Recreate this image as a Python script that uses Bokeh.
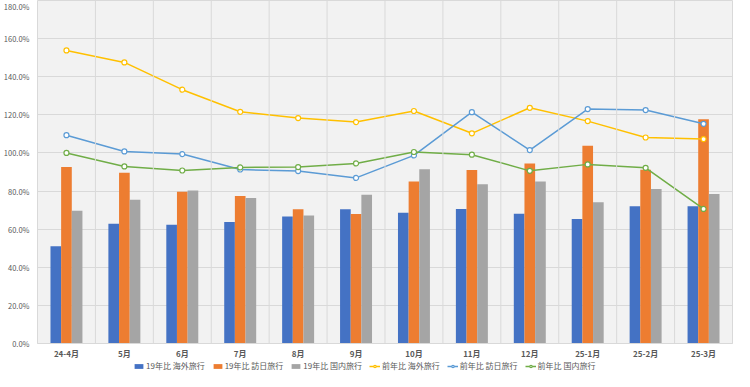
from bokeh.plotting import figure
from bokeh.layouts import column
from bokeh.models import (ColumnDataSource, FactorRange, FixedTicker, PrintfTickFormatter,
                          Legend, LegendItem, Span)
from bokeh.transform import dodge
from bokeh.embed import file_html
from bokeh.resources import INLINE

months = ["24-4月", "5月", "6月", "7月", "8月", "9月", "10月", "11月", "12月", "25-1月", "25-2月", "25-3月"]

vs19_outbound = [51.0, 62.8, 62.3, 63.7, 66.7, 70.4, 68.6, 70.6, 68.1, 65.3, 72.0, 72.0]
vs19_inbound = [92.6, 89.6, 79.7, 77.4, 70.4, 67.9, 85.0, 91.1, 94.5, 103.8, 91.2, 117.7]
vs19_domestic = [69.7, 75.5, 80.3, 76.4, 67.2, 78.0, 91.5, 83.6, 85.0, 74.1, 81.1, 78.5]

yoy_outbound = [153.8, 147.5, 133.2, 121.6, 118.3, 116.2, 122.0, 110.3, 123.7, 116.7, 108.1, 107.3]
yoy_inbound = [109.3, 100.8, 99.4, 91.3, 90.5, 86.9, 98.7, 121.4, 101.5, 123.0, 122.5, 115.3]
yoy_domestic = [100.0, 92.9, 90.8, 92.4, 92.6, 94.5, 100.5, 99.1, 90.6, 94.0, 92.2, 70.6]

y_ticks = [0, 20, 40, 60, 80, 100, 120, 140, 160, 180]

series_labels = ["19年比 海外旅行", "19年比 訪日旅行", "19年比 国内旅行",
                 "前年比 海外旅行", "前年比 訪日旅行", "前年比 国内旅行"]
bar_colors = ["#4472C4", "#ED7D31", "#A5A5A5"]
line_colors = ["#FFC000", "#5B9BD5", "#70AD47"]

src = ColumnDataSource(dict(month=months, b1=vs19_outbound, b2=vs19_inbound, b3=vs19_domestic,
                            l1=yoy_outbound, l2=yoy_inbound, l3=yoy_domestic))

JP = "Noto Sans CJK JP"
bw = 0.184


def draw_series(fig):
    bars, lines = [], []
    for key, off, col in zip(["b1", "b2", "b3"], [-bw, 0, bw], bar_colors):
        r = fig.vbar(x=dodge("month", off, range=fig.x_range), top=key, width=bw, source=src,
                     fill_color=col, line_color=None)
        bars.append(r)
    for key, col in zip(["l1", "l2", "l3"], line_colors):
        l = fig.line(x="month", y=key, source=src, line_color=col, line_width=1.5)
        s = fig.scatter(x="month", y=key, source=src, size=5, marker="circle",
                        fill_color="white", line_color=col, line_width=1.2)
        lines.append([l, s])
    return bars, lines


# ---- main chart ----
p = figure(x_range=FactorRange(factors=months), y_range=(0, 180),
           width=734, height=361, output_backend="svg", toolbar_location=None,
           min_border_left=28, min_border_right=2, min_border_top=0, min_border_bottom=12)
p.background_fill_color = "#f2f2f2"
p.border_fill_color = "white"
p.outline_line_color = "#d9d9d9"

p.xgrid.grid_line_color = None
p.ygrid.grid_line_color = "#d9d9d9"
p.ygrid.grid_line_width = 1
for i in range(1, len(months)):
    p.add_layout(Span(location=i, dimension="height", line_color="#d9d9d9", line_width=1))

draw_series(p)

p.yaxis.ticker = FixedTicker(ticks=y_ticks)
p.yaxis.formatter = PrintfTickFormatter(format="%.1f%%")
p.yaxis.axis_line_color = None
p.yaxis.major_tick_line_color = None
p.yaxis.major_tick_out = 0
p.yaxis.major_tick_in = 0
p.yaxis.minor_tick_line_color = None
p.yaxis.major_label_text_font = JP
p.yaxis.major_label_text_font_size = "7.5px"
p.yaxis.major_label_text_color = "#595959"
p.yaxis.major_label_standoff = 8

p.xaxis.axis_line_color = "#d9d9d9"
p.xaxis.major_tick_line_color = None
p.xaxis.major_tick_out = 0
p.xaxis.major_tick_in = 0
p.xaxis.axis_label_standoff = 0
p.xaxis.major_label_text_font = JP
p.xaxis.major_label_text_font_size = "8px"
p.xaxis.major_label_text_font_style = "bold"
p.xaxis.major_label_text_color = "#595959"
p.xaxis.major_label_standoff = 4

# ---- legend strip (series drawn out of view, only the legend shows) ----
lg = figure(x_range=FactorRange(factors=months), y_range=(1000, 1001),
            width=734, height=10, output_backend="svg", toolbar_location=None,
            x_axis_type=None, y_axis_type=None,
            min_border_left=0, min_border_right=0, min_border_top=0, min_border_bottom=0)
lg.outline_line_color = None
lg.background_fill_color = "white"
lg.xgrid.visible = False
lg.ygrid.visible = False
lbars, llines = draw_series(lg)

items = [LegendItem(label=series_labels[i], renderers=[lbars[i]]) for i in range(3)]
items += [LegendItem(label=series_labels[3 + i], renderers=llines[i]) for i in range(3)]
legend = Legend(items=items, orientation="horizontal", location=(96, 0),
                label_text_font=JP, label_text_font_size="8px", label_text_color="#595959",
                glyph_width=11, glyph_height=6, label_standoff=2, spacing=7,
                padding=0, margin=0, border_line_color=None, background_fill_alpha=0,
                label_height=9)
lg.add_layout(legend, "center")

layout = column(p, lg, spacing=0)
open("out.html", "w").write(file_html(layout, INLINE))
